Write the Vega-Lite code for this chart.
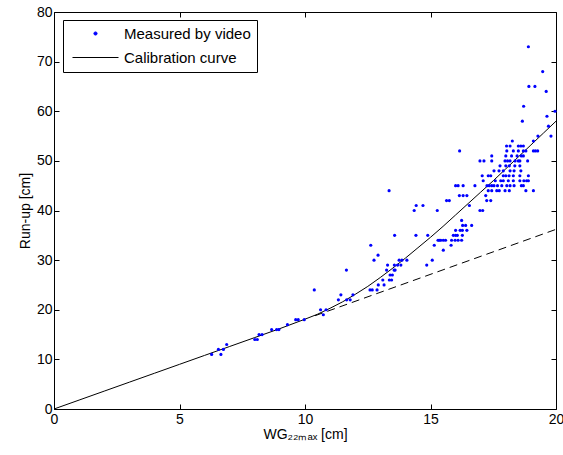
{
  "$schema": "https://vega.github.io/schema/vega-lite/v6.json",
  "width": 502,
  "height": 397,
  "autosize": {"type": "none"},
  "padding": {"left": 54, "top": 12, "right": 7, "bottom": 46},
  "background": "white",
  "config": {
    "view": {"stroke": "black", "strokeWidth": 1},
    "font": "Liberation Sans",
    "axis": {
      "grid": false,
      "domain": false,
      "labelFlush": false,
      "tickColor": "black",
      "tickSize": -5,
      "labelFontSize": 14,
      "labelColor": "black",
      "labelFont": "Liberation Sans",
      "titleFontSize": 14,
      "titleFontWeight": "normal",
      "titleColor": "black",
      "titleFont": "Liberation Sans"
    }
  },
  "datasets": {
    "curve": [
      {"x": 0, "y": 0}, {"x": 1, "y": 1.8}, {"x": 2, "y": 3.6}, {"x": 3, "y": 5.4}, {"x": 4, "y": 7.2},
      {"x": 5, "y": 9.0}, {"x": 6, "y": 10.8}, {"x": 7, "y": 12.6}, {"x": 8, "y": 14.4}, {"x": 9, "y": 16.2},
      {"x": 10, "y": 18.1}, {"x": 10.5, "y": 19.1}, {"x": 11, "y": 20.3}, {"x": 11.5, "y": 21.6}, {"x": 12, "y": 23.1},
      {"x": 12.5, "y": 24.7}, {"x": 13, "y": 26.5}, {"x": 13.5, "y": 28.4}, {"x": 14, "y": 30.4}, {"x": 14.5, "y": 32.5},
      {"x": 15, "y": 34.6}, {"x": 15.5, "y": 36.8}, {"x": 16, "y": 39.1}, {"x": 16.5, "y": 41.4}, {"x": 17, "y": 43.7},
      {"x": 17.5, "y": 46.0}, {"x": 18, "y": 48.4}, {"x": 18.5, "y": 50.8}, {"x": 19, "y": 53.2}, {"x": 19.5, "y": 55.6},
      {"x": 20, "y": 58.0}
    ],
    "lin": [{"x": 10.4, "y": 18.8}, {"x": 20, "y": 36.2}],
    "pts": [
      {"x": 6.28, "y": 11}, {"x": 6.55, "y": 12}, {"x": 6.65, "y": 11}, {"x": 6.75, "y": 12}, {"x": 6.88, "y": 13},
      {"x": 8.0, "y": 14}, {"x": 8.1, "y": 14}, {"x": 8.17, "y": 15}, {"x": 8.29, "y": 15}, {"x": 8.67, "y": 16},
      {"x": 8.87, "y": 16}, {"x": 8.96, "y": 16}, {"x": 9.3, "y": 17}, {"x": 9.63, "y": 18}, {"x": 9.73, "y": 18},
      {"x": 9.97, "y": 18}, {"x": 10.37, "y": 24}, {"x": 10.62, "y": 20}, {"x": 10.73, "y": 19}, {"x": 10.84, "y": 20},
      {"x": 11.33, "y": 22}, {"x": 11.43, "y": 23}, {"x": 11.66, "y": 22}, {"x": 11.8, "y": 22}, {"x": 11.91, "y": 23},
      {"x": 11.65, "y": 28},
      {"x": 12.59, "y": 24}, {"x": 12.68, "y": 24}, {"x": 12.87, "y": 24}, {"x": 12.92, "y": 25}, {"x": 13.15, "y": 25},
      {"x": 13.1, "y": 26}, {"x": 13.25, "y": 28}, {"x": 13.36, "y": 26}, {"x": 13.45, "y": 26}, {"x": 13.39, "y": 27},
      {"x": 13.48, "y": 27}, {"x": 13.55, "y": 28}, {"x": 13.56, "y": 29}, {"x": 13.69, "y": 29}, {"x": 13.82, "y": 29},
      {"x": 13.75, "y": 30}, {"x": 13.86, "y": 30}, {"x": 14.06, "y": 30}, {"x": 13.29, "y": 29}, {"x": 13.59, "y": 28},
      {"x": 12.62, "y": 33}, {"x": 12.91, "y": 31}, {"x": 12.75, "y": 30}, {"x": 13.35, "y": 44}, {"x": 13.57, "y": 35},
      {"x": 14.35, "y": 40}, {"x": 14.43, "y": 41}, {"x": 14.7, "y": 41}, {"x": 15.27, "y": 40}, {"x": 14.42, "y": 35},
      {"x": 14.89, "y": 35}, {"x": 14.85, "y": 29}, {"x": 15.07, "y": 30},
      {"x": 15.15, "y": 33}, {"x": 15.35, "y": 34}, {"x": 15.51, "y": 32}, {"x": 15.51, "y": 34}, {"x": 15.6, "y": 34},
      {"x": 15.82, "y": 33}, {"x": 15.84, "y": 34}, {"x": 15.98, "y": 34}, {"x": 15.91, "y": 35}, {"x": 16.0, "y": 35},
      {"x": 16.07, "y": 35}, {"x": 16.1, "y": 34}, {"x": 16.24, "y": 34}, {"x": 16.27, "y": 35}, {"x": 16.0, "y": 36},
      {"x": 16.18, "y": 36}, {"x": 16.27, "y": 36}, {"x": 16.45, "y": 36}, {"x": 16.28, "y": 37}, {"x": 16.4, "y": 37},
      {"x": 16.64, "y": 37}, {"x": 16.24, "y": 38}, {"x": 15.41, "y": 34}, {"x": 15.3, "y": 34},
      {"x": 15.64, "y": 42}, {"x": 15.75, "y": 42}, {"x": 16.15, "y": 43}, {"x": 16.3, "y": 43}, {"x": 16.45, "y": 43},
      {"x": 16.55, "y": 41}, {"x": 16.0, "y": 45}, {"x": 16.1, "y": 45}, {"x": 16.3, "y": 45}, {"x": 16.16, "y": 52},
      {"x": 16.77, "y": 45},
      {"x": 16.97, "y": 40}, {"x": 17.08, "y": 40}, {"x": 17.24, "y": 42}, {"x": 17.4, "y": 42}, {"x": 17.2, "y": 43},
      {"x": 17.1, "y": 46},
      {"x": 16.97, "y": 50}, {"x": 17.13, "y": 50}, {"x": 17.44, "y": 50}, {"x": 17.44, "y": 51}, {"x": 17.06, "y": 47},
      {"x": 17.3, "y": 47}, {"x": 17.4, "y": 47}, {"x": 17.53, "y": 48}, {"x": 17.73, "y": 48},
      {"x": 17.25, "y": 45}, {"x": 17.34, "y": 45}, {"x": 17.44, "y": 45}, {"x": 17.53, "y": 45}, {"x": 17.67, "y": 45},
      {"x": 17.84, "y": 45}, {"x": 18.04, "y": 45}, {"x": 18.17, "y": 45}, {"x": 18.33, "y": 45}, {"x": 18.62, "y": 45},
      {"x": 18.7, "y": 45},
      {"x": 17.3, "y": 44}, {"x": 17.44, "y": 44}, {"x": 17.64, "y": 44}, {"x": 17.74, "y": 44}, {"x": 17.97, "y": 44},
      {"x": 18.14, "y": 44}, {"x": 18.8, "y": 44}, {"x": 19.1, "y": 44},
      {"x": 17.58, "y": 46}, {"x": 17.8, "y": 46}, {"x": 17.9, "y": 46}, {"x": 18.1, "y": 46}, {"x": 18.3, "y": 46},
      {"x": 18.56, "y": 46}, {"x": 18.72, "y": 46}, {"x": 18.83, "y": 46}, {"x": 18.9, "y": 46},
      {"x": 18.0, "y": 47}, {"x": 18.13, "y": 47}, {"x": 18.3, "y": 47}, {"x": 18.56, "y": 47}, {"x": 18.9, "y": 47},
      {"x": 17.9, "y": 47},
      {"x": 18.33, "y": 48}, {"x": 18.6, "y": 48}, {"x": 17.9, "y": 48}, {"x": 18.17, "y": 48},
      {"x": 17.77, "y": 49}, {"x": 18.0, "y": 49}, {"x": 18.14, "y": 49}, {"x": 18.36, "y": 49}, {"x": 18.56, "y": 49},
      {"x": 17.97, "y": 50}, {"x": 18.07, "y": 50}, {"x": 18.17, "y": 50}, {"x": 18.37, "y": 50}, {"x": 18.5, "y": 50},
      {"x": 18.56, "y": 50}, {"x": 18.87, "y": 50},
      {"x": 18.0, "y": 51}, {"x": 18.23, "y": 51}, {"x": 18.45, "y": 51}, {"x": 18.62, "y": 51}, {"x": 18.7, "y": 51},
      {"x": 18.04, "y": 52}, {"x": 18.3, "y": 52}, {"x": 18.5, "y": 52}, {"x": 18.7, "y": 52}, {"x": 18.8, "y": 52},
      {"x": 19.1, "y": 52}, {"x": 19.18, "y": 52}, {"x": 19.27, "y": 52},
      {"x": 18.03, "y": 53}, {"x": 18.17, "y": 53}, {"x": 18.5, "y": 53}, {"x": 18.6, "y": 53}, {"x": 18.7, "y": 53},
      {"x": 18.26, "y": 54}, {"x": 19.1, "y": 54},
      {"x": 19.28, "y": 55}, {"x": 19.8, "y": 55}, {"x": 19.7, "y": 57}, {"x": 18.66, "y": 58}, {"x": 19.64, "y": 59},
      {"x": 19.96, "y": 60}, {"x": 18.71, "y": 61}, {"x": 19.61, "y": 64}, {"x": 18.92, "y": 65}, {"x": 19.16, "y": 65},
      {"x": 19.47, "y": 68}, {"x": 18.9, "y": 73}
    ]
  },
  "resolve": {"axis": {"x": "independent", "y": "independent"}},
  "layer": [
    {
      "data": {"name": "curve"},
      "mark": {"type": "line", "strokeWidth": 1, "clip": true},
      "encoding": {
        "x": {"field": "x", "type": "quantitative", "scale": {"domain": [0, 20], "nice": false, "zero": false},
              "axis": {"values": [0, 5, 10, 15, 20], "title": "WG₂₂ₘₐₓ [cm]", "labelPadding": 8, "titlePadding": 1}},
        "y": {"field": "y", "type": "quantitative", "scale": {"domain": [0, 80], "nice": false},
              "axis": {"values": [0, 10, 20, 30, 40, 50, 60, 70, 80], "title": "Run-up [cm]", "labelPadding": 7, "titlePadding": 4}},
        "color": {
          "datum": "Calibration curve",
          "type": "nominal",
          "scale": {"domain": ["Measured by video", "Calibration curve"], "range": ["#0000ff", "#000000"]},
          "legend": {
            "orient": "none",
            "legendX": 9,
            "legendY": 8,
            "title": null,
            "strokeColor": "black",
            "fillColor": "white",
            "padding": 6,
            "symbolSize": 100,
            "symbolOffset": 19,
            "labelOffset": 21,
            "rowPadding": 8,
            "labelFontSize": 15,
            "labelFont": "Liberation Sans",
            "labelColor": "black",
            "cornerRadius": 0,
            "encode": {
              "symbols": {
                "update": {
                  "shape": {"signal": "datum.value === 'Calibration curve' ? 'M-4.6,0H4.6' : 'circle'"},
                  "size": {"signal": "datum.value === 'Calibration curve' ? 100 : 10"},
                  "fill": {"signal": "datum.value === 'Calibration curve' ? 'transparent' : '#0000ff'"},
                  "stroke": {"signal": "datum.value === 'Calibration curve' ? '#000000' : 'transparent'"},
                  "strokeWidth": {"value": 1},
                  "opacity": {"value": 1}
                }
              }
            }
          }
        }
      }
    },
    {
      "data": {"name": "lin"},
      "mark": {"type": "line", "strokeWidth": 1, "color": "black", "strokeDash": [8, 5]},
      "encoding": {
        "x": {"field": "x", "type": "quantitative", "axis": null},
        "y": {"field": "y", "type": "quantitative", "axis": null}
      }
    },
    {
      "data": {"name": "pts"},
      "mark": {"type": "circle", "size": 10, "opacity": 1},
      "encoding": {
        "x": {"field": "x", "type": "quantitative", "axis": {"orient": "top", "values": [0, 5, 10, 15, 20], "labels": false, "title": null}},
        "y": {"field": "y", "type": "quantitative", "axis": {"orient": "right", "values": [0, 10, 20, 30, 40, 50, 60, 70, 80], "labels": false, "title": null}},
        "color": {"datum": "Measured by video", "type": "nominal"}
      }
    }
  ]
}
